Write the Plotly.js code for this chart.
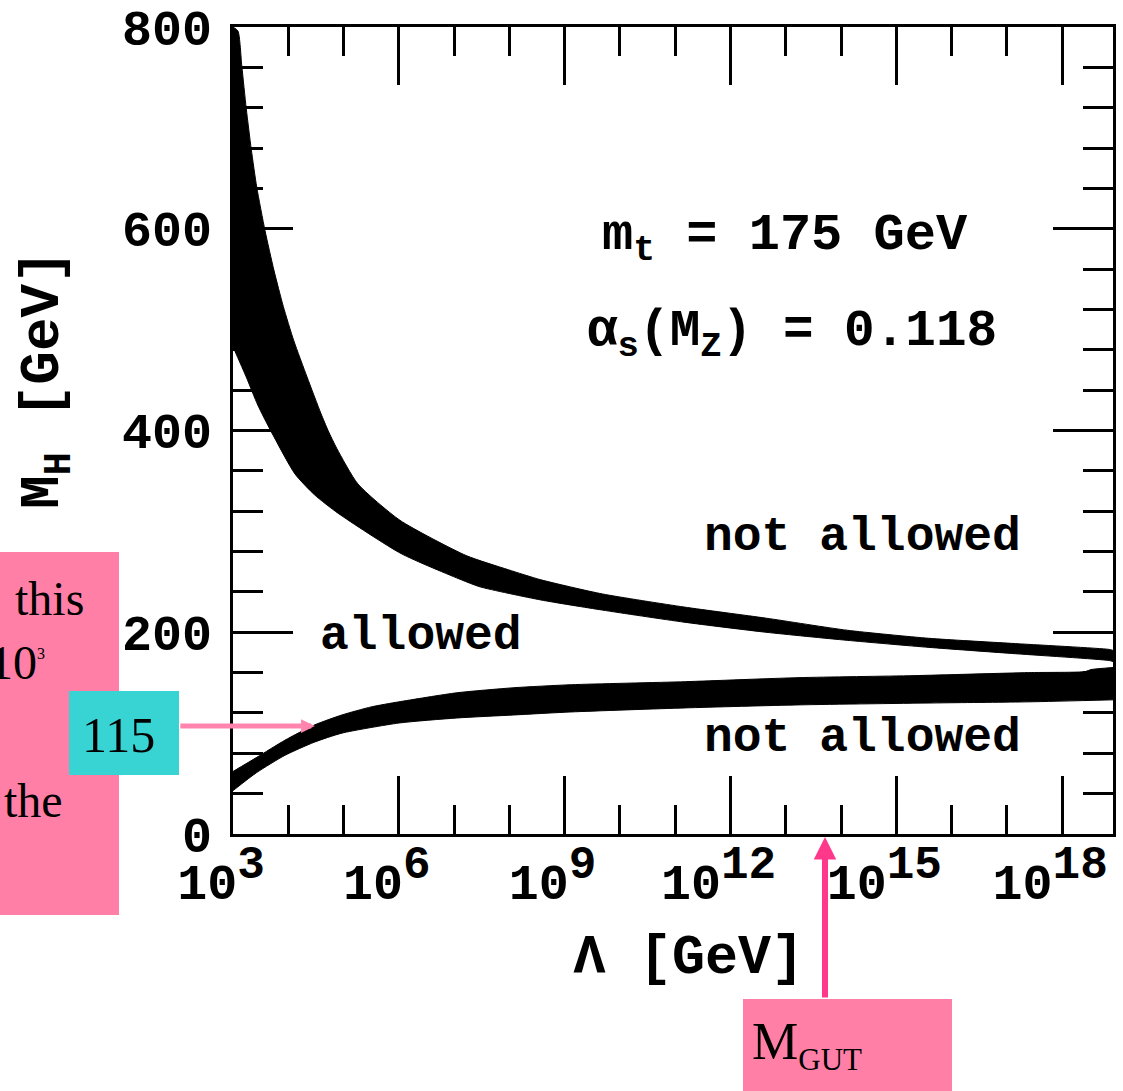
<!DOCTYPE html>
<html>
<head>
<meta charset="utf-8">
<script src="https://cdn.plot.ly/plotly-3.0.1.min.js"></script>
<style>html,body{margin:0;padding:0;background:#fff;}</style>
</head>
<body>
<div id="chart" style="width:1123px;height:1091px;"></div>
<script>
// Higgs mass bounds versus cut-off scale Λ (m_t = 175 GeV, α_s(M_Z) = 0.118)
// The x axis runs in log10(Λ / GeV) and is labelled 10^n; M_H is in GeV.

// Triviality bound band (upper band): its upper and lower edges
const upperTopLogL = [3.00, 3.09, 3.16, 3.24, 3.33, 3.43, 3.58, 3.74, 3.91, 4.10, 4.34, 4.59, 4.72, 4.88, 5.26, 6.02, 7.22, 7.98, 8.57, 9.68, 11.16, 12.64, 14.11, 15.59, 17.08, 18.85, 18.92];
const upperTopMH   = [800, 796, 761, 719, 679, 641, 598, 559, 523, 489, 453, 417, 400, 382, 347, 311, 276, 262, 252, 238, 225, 214, 202, 194, 189, 183, 182];
const upperBotLogL = [3.00, 3.24, 3.45, 3.69, 4.12, 4.48, 4.90, 6.04, 7.13, 7.47, 8.57, 9.68, 11.16, 12.64, 14.11, 15.59, 17.08, 18.85, 18.92];
const upperBotMH   = [483, 453, 425, 399, 357, 336, 318, 278, 252, 245, 232, 222, 210, 200, 192, 185, 179, 172, 171];

// Vacuum stability bound band (lower band): its upper and lower edges
const lowerTopLogL = [3.00, 3.43, 3.94, 4.47, 4.97, 5.50, 6.00, 7.05, 8.08, 9.12, 11.18, 13.24, 15.32, 17.39, 18.42, 18.52, 18.92];
const lowerTopMH   = [62, 76, 93, 108, 118, 126, 131, 140, 145, 148, 151, 155, 157, 160, 161, 163, 165];
const lowerBotLogL = [3.00, 3.43, 3.94, 4.47, 4.97, 6.00, 7.05, 8.08, 9.12, 11.18, 13.24, 15.83, 17.39, 18.92];
const lowerBotMH   = [43, 61, 78, 91, 100, 110, 115, 118, 121, 125, 128, 130, 131, 133];

// Axis ticks
const xMajorExp = [3, 6, 9, 12, 15, 18];
const yMajorVals = [0, 200, 400, 600, 800];

// Scale markers
const mgutLogL = 13.71;     // M_GUT arrow position
const markerLogL = 4.48;    // "115" arrow tip
const markerMH = 107;

// one band = upper edge line + lower edge line filled back to it
function band(topL, topM, botL, botM) {
  const edge = {type: 'scatter', mode: 'lines', hoverinfo: 'skip', showlegend: false,
                line: {color: '#000', width: 1, shape: 'spline', smoothing: 0.6}};
  return [
    Object.assign({}, edge, {x: topL, y: topM}),
    Object.assign({}, edge, {x: botL, y: botM, fill: 'tonexty', fillcolor: '#000'})
  ];
}

const traces = band(upperTopLogL, upperTopMH, upperBotLogL, upperBotMH)
  .concat(band(lowerTopLogL, lowerTopMH, lowerBotLogL, lowerBotMH));

// page geometry
const W = 1123, H = 1091;
const MAR = {l: 233, r: 10, t: 27, b: 257};
const PW = W - MAR.l - MAR.r, PH = H - MAR.t - MAR.b;
const px2x = p => (p - MAR.l) / PW;
const px2y = p => (H - MAR.b - p) / PH;

const MONO = '"Liberation Mono", "Courier New", monospace';
const SERIF = '"Liberation Serif", "Times New Roman", serif';
const monoFont = (s) => ({family: MONO, size: s, color: '#000', weight: 'bold'});
const serifFont = (s) => ({family: SERIF, size: s, color: '#000', weight: 'normal'});

const xTickText = xMajorExp.map(e => '10<sup><span style="font-size:46px">' + e + '</span></sup>');

const axisCommon = {
  ticks: 'inside', tickwidth: 3, tickcolor: '#000',
  showline: true, linewidth: 3, linecolor: '#000',
  mirror: 'ticks', showgrid: false, zeroline: false
};

const layout = {
  width: W, height: H,
  margin: {l: MAR.l, r: MAR.r, t: MAR.t, b: MAR.b, pad: 0},
  paper_bgcolor: '#fff', plot_bgcolor: '#fff',
  showlegend: false,
  font: monoFont(50),
  xaxis: Object.assign({}, axisCommon, {
    range: [3, 18.92],
    tickmode: 'array', tickvals: xMajorExp, ticktext: xTickText,
    ticklen: 58, tickfont: monoFont(50),
    ticklabelshift: -12, ticklabelstandoff: 2,
    minor: {dtick: 1, tick0: 0, ticks: 'inside', ticklen: 29, tickwidth: 3, tickcolor: '#000', showgrid: false}
  }),
  yaxis: Object.assign({}, axisCommon, {
    range: [0, 800],
    tickmode: 'array', tickvals: yMajorVals, ticktext: yMajorVals.map(String),
    ticklen: 60, tickfont: monoFont(50), ticklabelstandoff: 8,
    minor: {dtick: 40, tick0: 0, ticks: 'inside', ticklen: 30, tickwidth: 3, tickcolor: '#000', showgrid: false}
  }),
  shapes: [
    {type: 'rect', xref: 'paper', yref: 'paper', layer: 'above',
     x0: px2x(0), x1: px2x(119), y0: px2y(915), y1: px2y(552),
     fillcolor: 'rgb(255,127,167)', line: {width: 0}},
    {type: 'rect', xref: 'paper', yref: 'paper', layer: 'above',
     x0: px2x(69), x1: px2x(179), y0: px2y(775), y1: px2y(691),
     fillcolor: 'rgb(56,211,211)', line: {width: 0}},
    {type: 'rect', xref: 'paper', yref: 'paper', layer: 'above',
     x0: px2x(743), x1: px2x(952), y0: px2y(1091), y1: px2y(999),
     fillcolor: 'rgb(255,127,167)', line: {width: 0}}
  ],
  annotations: [
    // axis titles
    {xref: 'paper', yref: 'paper', x: px2x(688), y: px2y(958), xanchor: 'center', yanchor: 'middle',
     text: 'Λ [GeV]', showarrow: false, font: monoFont(55)},
    {xref: 'paper', yref: 'paper', x: px2x(46), y: px2y(380), xanchor: 'center', yanchor: 'middle',
     text: 'M<sub>H</sub> [GeV]', textangle: -90, showarrow: false, font: monoFont(56)},
    // parameters
    {xref: 'paper', yref: 'paper', x: px2x(600), y: px2y(238), xanchor: 'left', yanchor: 'middle',
     text: 'm<sub>t</sub> = 175 GeV', showarrow: false, font: monoFont(52)},
    {xref: 'paper', yref: 'paper', x: px2x(585), y: px2y(335), xanchor: 'left', yanchor: 'middle',
     text: 'α<sub>s</sub>(M<sub>Z</sub>) = 0.118', showarrow: false, font: monoFont(51)},
    // region labels
    {xref: 'paper', yref: 'paper', x: px2x(862), y: px2y(537), xanchor: 'center', yanchor: 'middle',
     text: 'not allowed', showarrow: false, font: monoFont(48)},
    {xref: 'paper', yref: 'paper', x: px2x(421), y: px2y(636), xanchor: 'center', yanchor: 'middle',
     text: 'allowed', showarrow: false, font: monoFont(48)},
    {xref: 'paper', yref: 'paper', x: px2x(862), y: px2y(738), xanchor: 'center', yanchor: 'middle',
     text: 'not allowed', showarrow: false, font: monoFont(48)},
    // side note
    {xref: 'paper', yref: 'paper', x: px2x(49), y: px2y(598), xanchor: 'center', yanchor: 'middle',
     text: 'this', showarrow: false, font: serifFont(48)},
    {xref: 'paper', yref: 'paper', x: px2x(47), y: px2y(662), xanchor: 'right', yanchor: 'middle',
     text: '10<sup><span style="font-size:16px">3</span></sup>', showarrow: false, font: serifFont(48)},
    {xref: 'paper', yref: 'paper', x: px2x(65), y: px2y(800), xanchor: 'right', yanchor: 'middle',
     text: 'the', showarrow: false, font: serifFont(48)},
    // 115 marker
    {xref: 'paper', yref: 'paper', x: px2x(118), y: px2y(735), xanchor: 'center', yanchor: 'middle',
     text: '115', showarrow: false, font: serifFont(50)},
    {xref: 'x', yref: 'y', x: markerLogL, y: markerMH,
     axref: 'pixel', ayref: 'pixel', ax: -136, ay: 0,
     text: '', showarrow: true, arrowhead: 2, arrowsize: 0.55, arrowwidth: 5,
     arrowcolor: 'rgb(255,133,175)', standoff: 0},
    // M_GUT marker
    {xref: 'x', yref: 'paper', x: mgutLogL, y: px2y(837),
     ax: 0, ay: 162, text: '', showarrow: true, arrowhead: 2, arrowsize: 0.75, arrowwidth: 6,
     arrowcolor: 'rgb(255,56,140)', standoff: 0},
    {xref: 'paper', yref: 'paper', x: px2x(750), y: px2y(1045), xanchor: 'left', yanchor: 'middle',
     text: 'M<sub><span style="font-size:31px">GUT</span></sub>', showarrow: false, font: serifFont(52)}
  ]
};

Plotly.newPlot('chart', traces, layout, {staticPlot: true, displayModeBar: false});
</script>
</body>
</html>
